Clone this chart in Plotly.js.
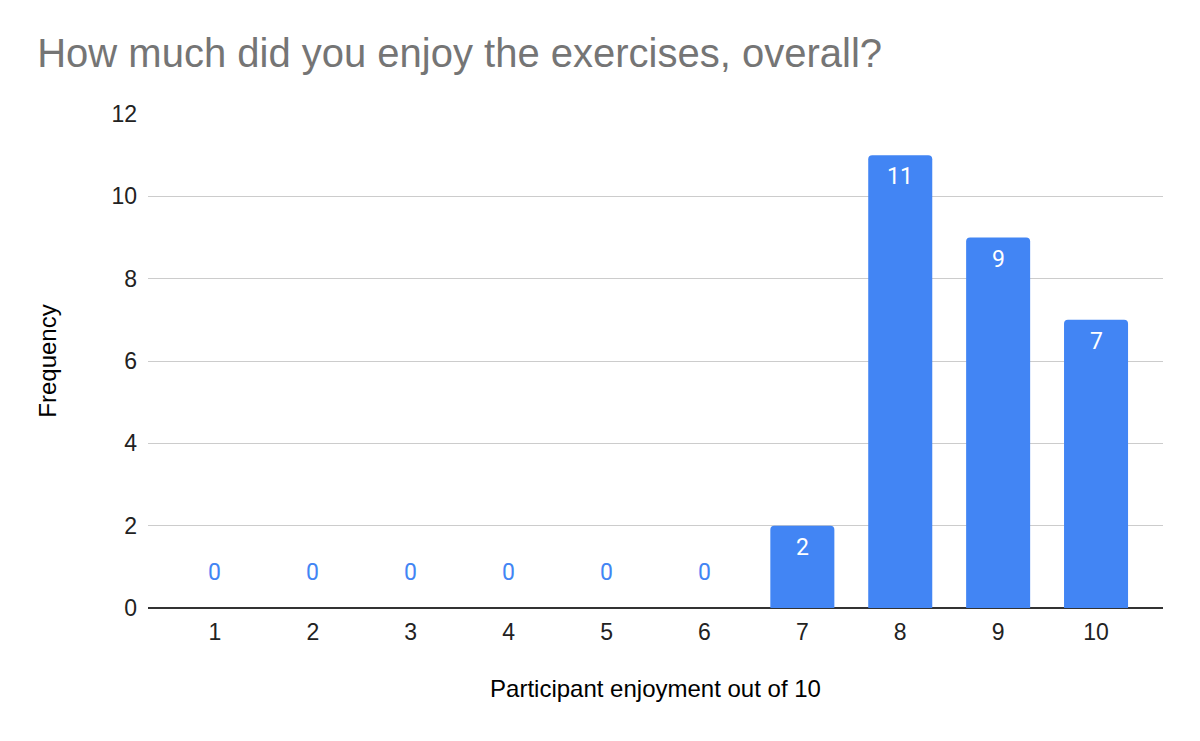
<!DOCTYPE html>
<html>
<head>
<meta charset="utf-8">
<script src="https://cdn.plot.ly/plotly-3.0.1.min.js"></script>
<style>html,body{margin:0;padding:0;background:#fff;}#chart{width:1200px;height:741px;}</style>
</head>
<body>
<div id="chart"></div>
<script>
const scores = ['1','2','3','4','5','6','7','8','9','10'];
const frequency = [0,0,0,0,0,0,2,11,9,7];
const yTicks = [0,2,4,6,8,10,12];

const barColor = '#4285F4';
const font = 'Liberation Sans, Arial, sans-serif';

const annotations = scores.map((s, i) => {
  const v = frequency[i];
  const zero = v === 0;
  return {
    x: i, y: v, xref: 'x', yref: 'y',
    text: String(v), showarrow: false,
    yanchor: zero ? 'bottom' : 'top',
    yshift: zero ? 20 : -6,
    font: {family: 'Roboto, Arial, sans-serif', size: 23, color: zero ? barColor : '#ffffff'}
  };
});

const trace = {
  type: 'bar',
  x: scores,
  y: frequency,
  marker: {color: barColor, cornerradius: 4},
  hoverinfo: 'x+y'
};

const layout = {
  width: 1200, height: 741,
  margin: {l: 148, r: 37, t: 114, b: 133},
  paper_bgcolor: '#ffffff', plot_bgcolor: '#ffffff',
  bargap: 0.346,
  showlegend: false,
  title: {
    text: 'How much did you enjoy the exercises, overall?',
    x: 0.031, xanchor: 'left', y: 0.929, yanchor: 'middle',
    font: {family: font, size: 40, color: '#757575'}
  },
  xaxis: {
    type: 'category',
    range: [-0.684, 9.684],
    showgrid: false, zeroline: false, showline: false,
    ticks: '', ticklen: 0,
    ticklabelstandoff: 8,
    tickfont: {family: font, size: 23, color: '#222222'},
    title: {text: 'Participant enjoyment out of 10', standoff: 36,
      font: {family: font, size: 24, color: '#000000'}}
  },
  yaxis: {
    range: [0, 12],
    tickvals: yTicks,
    ticktext: yTicks.map(String),
    showgrid: true, gridcolor: '#cccccc', gridwidth: 1,
    zeroline: true, zerolinecolor: '#333333', zerolinewidth: 2,
    showline: false, ticks: '',
    ticklabelstandoff: 10,
    tickfont: {family: font, size: 23, color: '#222222'},
    title: {text: 'Frequency', standoff: 48,
      font: {family: font, size: 24, color: '#000000'}}
  },
  annotations: annotations
};

Plotly.newPlot('chart', [trace], layout, {displayModeBar: false, staticPlot: true});
</script>
</body>
</html>
